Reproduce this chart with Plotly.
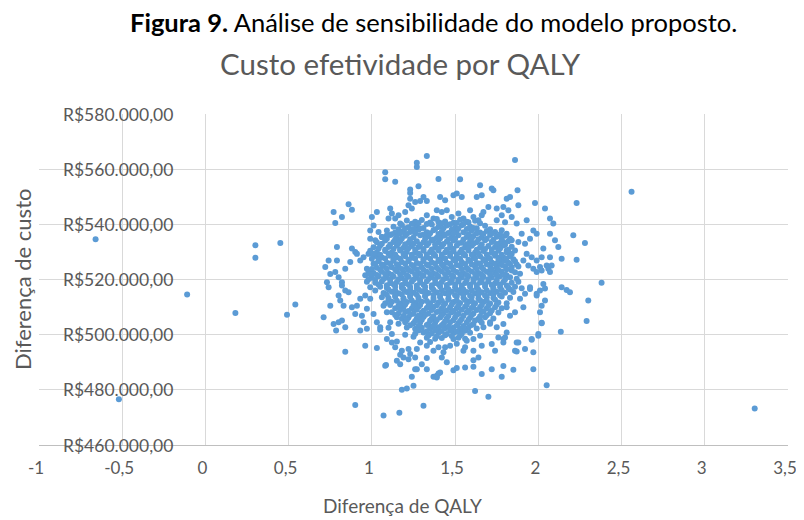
import plotly.graph_objects as go

# Values: (Diferença de QALY, Diferença de custo em milhares de R$)
pontos_extremos = [(-0.66,534.6),(-0.52,476.6),(-0.11,514.6),(0.18,507.9),(0.30,532.4),(0.30,527.9),
    (0.45,533.2),(0.49,507.2),(0.54,510.9),(2.56,551.8),(3.30,473.2),(2.38,518.8)]

pontos_periferia_superior = [(1.33,564.8),(1.27,562.3),(1.27,560.8),(1.08,558.9),(1.08,556.3),(1.14,555.4),
    (1.40,556.4),(1.53,556.3),(1.86,563.3),(1.23,552.6),(1.23,551.4),(1.28,553.8),(1.31,549.9),(1.33,548.5),
    (1.29,548.5),(1.26,548.1),(1.23,549.3),(1.22,546.9),(1.24,545.7),(1.20,544.5),(1.39,545.1),
    (0.86,547.3),(0.88,545.3),(0.77,544.5),(0.82,542.7),(0.78,540.5),(1.03,544.5),(1.00,542.7),(1.01,539.6),
    (0.99,537.8),(1.11,545.7),(1.12,543.9),(1.10,542.1),(1.14,542.1),(1.16,543.3),(1.17,540.3),
    (1.04,537.2),(1.06,535.4),(1.02,534.2),(0.99,534.8),(1.09,536.0),(1.33,543.3),(1.37,542.1),(1.40,540.8),
    (1.42,544.5),(0.79,531.8),(0.88,531.2),(0.90,530.0),(0.74,526.9),(0.79,526.9),(0.75,522.0),(0.78,522.7),
    (0.84,523.9),(0.87,526.3),(0.93,526.9),(0.91,529.3),(0.95,528.1),(0.98,529.3),(0.97,523.9),(1.01,525.7),
    (0.96,521.5),(0.80,520.8),(0.82,519.0),(0.73,519.0),(0.72,524.5),(1.65,554.2),(1.66,550.5),(1.63,549.9),
    (1.72,553.0),(1.73,552.4),(1.41,549.9),(1.44,548.7),(1.49,550.5),(1.51,551.2),(1.54,549.9),(1.875,552.4),
    (1.81,549.3),(1.83,549.9),(1.98,547.7),(2.04,545.7),(1.88,546.9),(1.70,546.3),(1.75,545.7),(1.79,546.3),
    (1.82,545.1),(2.07,542.1),(2.09,540.3),(1.93,541.5),(1.87,540.3),(1.84,542.7),(1.80,540.8),(1.78,543.3),
    (1.75,541.5),(1.59,545.1),(1.61,542.7),(1.64,541.5),(1.66,543.3),(1.67,544.5),(1.58,540.8),(1.55,542.1),
    (1.52,543.9),(1.48,542.7),(1.45,545.1),(1.97,537.8),(1.99,536.6),(1.95,534.8),(1.90,536.6),(1.88,533.6),
    (1.92,533.0),(1.84,534.2),(2.07,536.6),(2.10,534.2),(2.12,531.8),(2.14,527.5),(2.23,547.7),(2.21,536.0),
    (2.28,533.2),(2.23,527.2),(2.03,531.2),(2.07,528.1),(2.02,528.1),(1.99,526.9),(1.96,528.1),(1.93,529.3),
    (1.91,526.9),(1.94,525.1),(1.97,523.9),(2.01,524.5),(2.05,525.1),(2.02,523.3),(1.99,522.7),(1.81,536.6),
    (1.83,534.8),(1.79,533.6),(1.76,531.8),(1.81,530.5),(1.84,529.3),(1.86,530.5),(1.77,528.1),(1.80,526.9),
    (1.75,525.1),(1.71,523.3),(1.84,523.3),(1.81,521.5),(1.87,520.3),(1.89,522.1),(2.06,523.9),(2.07,522.7),
    (2.08,525.1),(2.03,518.4),(2.04,516.7)]

pontos_periferia_inferior = [(2.14,517.2),(2.17,516.2),(2.19,515.4),(2.30,512.4),(2.29,505.0),(2.135,501.1),
    (2.02,504.3),(2.00,499.6),(1.96,498.2),(1.97,493.6),(1.97,487.5),(2.05,481.7),(1.85,487.3),(1.78,484.7),
    (1.79,488.6),(1.72,487.5),(1.70,477.5),(1.62,479.6),(1.66,485.7),(1.61,488.4),(1.56,488.1),(1.64,491.7),
    (1.86,494.2),(1.92,494.8),(1.88,497.2),(1.74,494.2),(1.79,498.4),(1.95,516.6),(1.99,514.8),(1.61,490.7),
    (1.55,494.2),(1.56,495.4),(1.61,494.2),(1.66,496.0),(1.72,496.6),(1.79,497.2),(1.76,499.0),(1.80,499.0),
    (1.87,497.2),(1.87,493.9),(1.96,498.4),(2.00,500.2),(2.02,504.1),(1.42,491.7),(1.45,490.0),(1.65,499.6),
    (1.61,498.4),(1.53,501.5),(1.57,497.8),(1.49,498.4),(1.47,496.0),(1.44,495.4),(1.43,493.6),(2.01,508.1),
    (2.02,510.5),(2.04,512.4),(1.99,514.2),(2.01,516.0),(1.95,517.2),(1.92,514.8),(1.89,513.0),(1.91,509.9),
    (1.86,508.1),(1.83,506.9),(1.81,509.9),(1.79,503.9),(1.75,502.7),(1.71,504.5),(1.67,502.7),(1.65,505.1),
    (1.81,500.8),(1.51,487.9),(1.49,487.1),
    (0.90,474.5),(1.07,470.7),(1.165,471.7),(1.31,474.2),(1.18,480.0),(1.21,480.5),(1.25,481.5),(1.24,484.7),
    (1.26,487.5),(1.085,489.0),(0.84,493.8),(0.96,496.0),(1.03,495.2),(1.37,484.7),(1.39,485.1),(1.40,485.9),
    (1.33,491.5),(1.15,490.5),(1.19,491.7),(1.17,492.7),(0.74,517.2),(0.82,517.8),(0.84,516.0),(0.80,514.2),
    (0.81,512.4),(0.86,515.4),(0.83,510.5),(0.75,510.5),(0.71,506.3),(0.77,503.9),(0.80,504.5),(0.82,505.1),
    (0.785,501.5),(0.84,502.7),(0.88,509.9),(0.91,510.5),(0.90,507.5),(0.93,513.0),(0.96,514.2),(0.99,513.0),
    (0.97,509.4),(0.94,506.9),(0.95,504.5),(0.93,501.5),(1.01,507.5),(1.03,504.5),(1.05,502.7),(0.99,517.2),
    (1.02,516.0),(1.06,513.6),(1.07,510.5),(1.09,508.1),(1.11,504.5),(1.12,500.2),(1.09,498.4),(1.12,497.2),
    (1.14,495.4),(1.18,494.2),(1.22,494.8),(1.23,493.0),(1.27,494.8),(1.29,497.2),(1.33,496.0),(1.37,494.2),
    (1.40,495.4),(1.08,488.7),(1.17,489.3),(1.22,491.1),(1.26,491.7),(1.30,489.3),(1.33,487.5),(1.27,487.5),
    (1.39,484.5),(1.41,486.3),(0.97,502.1),(1.05,501.8),(1.10,502.5),(1.15,497.5),(1.35,497.3),(1.51,496.7),
    (1.25,499.2),(1.20,500.0)]

pontos_nucleo_superior = [(1.21,541.4),(1.26,540.9),(1.30,541.6),(1.35,540.7),(1.39,541.9),(1.44,541.0),(1.49,540.6),
    (1.53,541.7),(1.57,540.9),(1.62,541.3),(1.13,539.1),(1.18,539.8),(1.22,538.9),(1.27,539.5),(1.31,538.7),
    (1.36,539.9),(1.40,539.0),(1.45,539.6),(1.50,538.8),(1.54,539.7),(1.59,539.2),(1.63,538.6),(1.68,539.5),
    (1.09,537.8),(1.14,537.0),(1.19,537.6),(1.23,537.2),(1.28,538.0),(1.33,537.1),(1.37,537.9),(1.42,537.3),
    (1.46,536.9),(1.51,537.7),(1.55,537.1),(1.60,537.8),(1.65,537.0),(1.69,537.6),(1.74,537.2),(1.78,537.9),
    (1.06,535.4),(1.11,536.1),(1.15,535.5),(1.20,535.9),(1.25,535.2),(1.29,536.0),(1.34,535.6),(1.39,535.1),
    (1.43,535.9),(1.48,535.3),(1.52,536.0),(1.57,535.4),(1.61,535.8),(1.66,535.2),(1.71,536.1),(1.75,535.5),
    (1.80,535.9),(1.03,533.5),(1.08,534.1),(1.13,533.6),(1.17,534.0),(1.22,533.3),(1.27,533.9),(1.31,533.5),
    (1.36,534.2),(1.40,533.4),(1.45,533.8),(1.49,534.1),(1.54,533.3),(1.59,533.9),(1.63,533.5),(1.68,534.2),
    (1.72,533.6),(1.77,533.2),(1.82,533.9),(1.01,531.7),(1.05,532.3),(1.10,531.8),(1.15,532.2),(1.19,531.5),
    (1.24,532.1),(1.28,531.8),(1.33,532.4),(1.38,531.6),(1.42,532.0),(1.47,531.5),(1.51,532.3),(1.56,531.7),
    (1.60,532.2),(1.65,531.6),(1.70,532.1),(1.74,531.8),(1.79,532.3),(1.84,531.9),(0.99,530.4),(1.03,529.9),
    (1.08,530.3),(1.12,529.8),(1.17,530.5),(1.21,530.0),(1.26,529.7),(1.31,530.4),(1.35,530.0),(1.40,530.5),
    (1.44,529.8),(1.49,530.2),(1.53,529.9),(1.58,530.5),(1.62,529.8),(1.67,530.3),(1.72,529.7),(1.76,530.4),
    (1.81,529.9),(1.02,528.5),(1.06,528.0),(1.11,528.6),(1.15,528.1),(1.20,528.4),(1.24,527.9),(1.29,528.7),
    (1.33,528.2),(1.38,528.6),(1.42,528.0),(1.47,528.5),(1.51,528.1),(1.56,528.7),(1.61,528.2),(1.65,528.4),
    (1.70,527.9),(1.74,528.6),(1.79,528.0),(1.83,528.5),(1.04,526.6),(1.09,526.1),(1.13,526.8),(1.18,526.3),
    (1.22,526.6),(1.27,526.0),(1.31,526.7),(1.36,526.2),(1.41,526.5),(1.45,526.1),(1.50,526.8),(1.54,526.3),
    (1.59,526.6),(1.63,526.0),(1.68,526.7),(1.72,526.2),(1.77,526.5),(1.82,526.1),(1.86,526.6),(1.03,524.3),
    (1.07,524.9),(1.12,524.4),(1.16,524.8),(1.21,524.2),(1.25,524.7),(1.30,524.4),(1.34,525.0),(1.39,524.3),
    (1.43,524.8),(1.48,524.5),(1.53,524.9),(1.57,524.2),(1.62,524.7),(1.66,524.4),(1.71,524.9),(1.75,524.3),
    (1.80,524.8),(1.84,524.4),(1.88,524.7)]

pontos_nucleo_inferior = [(0.98,522.9),(1.01,522.4),(1.06,522.8),(1.10,522.3),(1.15,523.0),(1.19,522.5),
    (1.24,522.9),(1.28,522.4),(1.33,522.8),(1.37,522.2),(1.42,522.9),(1.46,522.5),(1.51,522.7),(1.55,522.3),
    (1.60,522.9),(1.64,522.4),(1.69,522.8),(1.74,522.5),(1.78,522.9),(1.86,522.6),(1.00,520.6),(1.04,521.2),
    (1.09,520.7),(1.13,521.1),(1.18,520.5),(1.22,521.0),(1.27,520.6),(1.31,521.3),(1.36,520.8),(1.40,521.1),
    (1.45,520.5),(1.49,521.0),(1.54,520.7),(1.58,521.2),(1.63,520.6),(1.67,521.0),(1.72,520.7),(1.77,521.2),
    (1.83,520.8),(0.97,519.2),(1.02,518.8),(1.06,519.3),(1.11,518.7),(1.15,519.1),(1.20,518.6),(1.24,519.2),
    (1.29,518.9),(1.33,519.4),(1.38,518.7),(1.42,519.1),(1.47,518.8),(1.52,519.3),(1.56,518.7),(1.61,519.2),
    (1.65,518.9),(1.70,519.3),(1.74,518.6),(1.79,519.1),(1.84,518.8),(1.88,519.2),(1.05,517.4),(1.09,516.9),
    (1.14,517.5),(1.18,517.0),(1.23,517.3),(1.27,516.8),(1.32,517.4),(1.36,517.0),(1.41,517.5),(1.45,516.9),
    (1.50,517.2),(1.54,516.8),(1.59,517.4),(1.63,517.0),(1.68,517.5),(1.73,516.9),(1.77,517.3),(1.82,517.0),
    (1.86,517.4),(1.90,516.8),(1.07,515.1),(1.12,515.6),(1.16,515.0),(1.21,515.5),(1.25,515.2),(1.30,515.7),
    (1.34,515.1),(1.39,515.4),(1.44,515.0),(1.48,515.6),(1.53,515.2),(1.57,515.5),(1.62,515.0),(1.66,515.4),
    (1.71,515.1),(1.75,515.6),(1.80,515.2),(1.85,515.5),(1.10,513.3),(1.14,513.8),(1.19,513.2),(1.23,513.7),
    (1.28,513.4),(1.32,513.9),(1.37,513.3),(1.41,513.6),(1.46,513.2),(1.51,513.8),(1.55,513.4),(1.60,513.7),
    (1.64,513.1),(1.69,513.6),(1.73,513.3),(1.78,513.8),(1.83,513.4),(1.08,511.4),(1.12,511.9),(1.17,511.3),
    (1.21,511.8),(1.26,511.5),(1.30,511.9),(1.35,511.4),(1.40,511.7),(1.44,511.3),(1.49,511.8),(1.53,511.5),
    (1.58,511.9),(1.62,511.4),(1.67,511.8),(1.71,511.3),(1.76,511.7),(1.81,511.4),(1.14,509.6),(1.19,510.0),
    (1.24,509.5),(1.28,510.1),(1.33,509.7),(1.37,510.0),(1.42,509.5),(1.47,509.9),(1.51,509.6),(1.56,510.1),
    (1.60,509.7),(1.65,510.0),(1.69,509.5),(1.74,509.9),(1.78,509.6),(1.12,508.1),(1.16,507.7),(1.20,508.2),
    (1.25,507.6),(1.30,508.0),(1.34,507.7),(1.39,508.2),(1.43,507.8),(1.48,508.1),(1.52,507.6),(1.57,508.0),
    (1.61,507.7),(1.66,508.2),(1.71,507.8),(1.76,508.0),(1.15,506.3),(1.18,505.8),(1.22,506.2),(1.27,505.9),
    (1.31,506.4),(1.36,505.8),(1.41,506.2),(1.45,505.9),(1.50,506.3),(1.54,505.7),(1.59,506.1),(1.64,505.8),
    (1.68,506.3),(1.73,505.9),(1.16,504.0),(1.20,504.5),(1.25,504.1),(1.29,504.4),(1.34,503.9),(1.38,504.3),
    (1.43,504.0),(1.47,504.5),(1.52,504.1),(1.57,504.4),(1.61,503.9),(1.66,504.3),(1.71,504.0),(1.21,502.6),
    (1.26,502.1),(1.30,502.5),(1.35,502.2),(1.40,502.7),(1.44,502.3),(1.49,502.6),(1.53,502.1),(1.58,502.5),
    (1.63,502.2),(1.26,500.3),(1.31,500.8),(1.36,500.4),(1.40,500.7),(1.45,500.2),(1.49,500.6),(1.54,500.3),
    (1.59,500.7),(1.33,498.9),(1.38,498.5),(1.42,498.8),(1.52,498.9),(1.56,498.5)]

pontos_nucleo_denso_superior = [(1.24,540.2),(1.28,540.5),(1.33,540.1),(1.42,540.4),(1.47,540.0),(1.51,540.5),
    (1.55,540.1),(1.65,540.4),(1.16,538.2),(1.20,538.6),(1.25,538.3),(1.29,538.5),(1.38,538.2),(1.43,538.6),
    (1.48,538.1),(1.52,538.5),(1.57,538.3),(1.61,538.7),(1.71,538.2),(1.12,536.4),(1.17,536.8),(1.21,536.5),
    (1.26,536.7),(1.31,536.3),(1.35,536.8),(1.40,536.5),(1.44,536.3),(1.49,536.7),(1.58,536.4),(1.63,536.8),
    (1.67,536.5),(1.72,536.7),(1.77,536.4),(1.09,534.8),(1.14,534.5),(1.18,534.9),(1.23,534.6),(1.32,534.8),
    (1.37,534.5),(1.41,534.9),(1.46,534.6),(1.50,534.8),(1.55,534.5),(1.60,534.9),(1.64,534.6),(1.69,534.8),
    (1.73,534.4),(1.78,534.7),(1.06,533.0),(1.11,532.7),(1.16,533.1),(1.20,532.8),(1.25,533.0),(1.29,532.6),
    (1.34,533.1),(1.38,532.8),(1.43,532.9),(1.47,532.6),(1.52,533.1),(1.57,532.8),(1.61,533.0),(1.66,532.7),
    (1.75,532.9),(1.80,532.6),(1.04,531.2),(1.08,530.8),(1.13,531.1),(1.17,530.9),(1.22,531.3),(1.26,530.8),
    (1.31,531.1),(1.36,530.9),(1.40,531.2),(1.45,530.8),(1.49,531.1),(1.54,530.9),(1.58,531.3),(1.63,530.8),
    (1.68,531.1),(1.72,530.9),(1.77,531.2),(1.82,530.8),(1.01,529.3),(1.05,529.0),(1.10,529.4),(1.14,529.1),
    (1.19,529.3),(1.24,529.0),(1.28,529.4),(1.33,529.1),(1.37,529.3),(1.42,529.0),(1.47,529.4),(1.51,529.1),
    (1.55,529.3),(1.60,529.0),(1.64,529.4),(1.69,529.1),(1.74,529.3),(1.78,529.0),(1.00,527.5),(1.04,527.2),
    (1.08,527.6),(1.13,527.3),(1.17,527.5),(1.22,527.2),(1.26,527.6),(1.31,527.3),(1.35,527.5),(1.40,527.2),
    (1.44,527.6),(1.49,527.3),(1.53,527.5),(1.58,527.2),(1.62,527.6),(1.67,527.3),(1.71,527.5),(1.76,527.2),
    (1.81,527.6),(1.85,527.3),(1.02,525.7),(1.06,525.4),(1.11,525.8),(1.15,525.5),(1.20,525.7),(1.24,525.3),
    (1.29,525.6),(1.33,525.4),(1.38,525.8),(1.42,525.5),(1.47,525.7),(1.51,525.3),(1.56,525.6),(1.60,525.4),
    (1.65,525.8),(1.69,525.5),(1.74,525.7),(1.78,525.3),(1.83,525.6),(1.87,525.4),(1.00,523.8),(1.05,523.5),
    (1.09,523.9),(1.14,523.6),(1.18,523.8),(1.22,523.4),(1.27,523.7),(1.31,523.5),(1.36,523.9),(1.40,523.6),
    (1.45,523.8),(1.49,523.4),(1.54,523.7),(1.58,523.5),(1.63,523.9),(1.67,523.6),(1.72,523.8),(1.76,523.4),
    (1.81,523.7)]

pontos_nucleo_denso_inferior = [(0.99,521.9),(1.03,521.6),(1.08,522.0),(1.12,521.7),(1.17,521.9),(1.21,521.5),
    (1.26,521.8),(1.30,521.6),(1.35,522.0),(1.39,521.7),(1.44,521.9),(1.48,521.5),(1.53,521.8),(1.57,521.6),
    (1.62,522.0),(1.66,521.7),(1.71,521.9),(1.75,521.5),(1.80,521.8),(0.98,520.1),(1.02,519.8),(1.07,520.2),
    (1.11,519.9),(1.16,520.1),(1.20,519.7),(1.25,520.0),(1.29,519.8),(1.34,520.2),(1.38,519.9),(1.43,520.1),
    (1.48,519.7),(1.52,520.0),(1.57,519.8),(1.61,520.2),(1.66,519.9),(1.70,520.1),(1.75,519.7),(1.80,520.0),
    (1.04,518.2),(1.09,517.9),(1.13,518.3),(1.18,518.0),(1.22,518.2),(1.27,517.8),(1.31,518.1),(1.36,517.9),
    (1.40,518.3),(1.45,518.0),(1.50,518.2),(1.54,517.8),(1.59,518.1),(1.63,517.9),(1.68,518.3),(1.72,518.0),
    (1.77,518.2),(1.81,517.8),(1.10,516.4),(1.14,516.1),(1.19,516.5),(1.23,516.2),(1.28,516.4),(1.32,516.0),
    (1.37,516.3),(1.42,516.1),(1.46,516.5),(1.51,516.2),(1.55,516.4),(1.60,516.0),(1.64,516.3),(1.69,516.1),
    (1.73,516.5),(1.78,516.2),(1.83,516.4),(1.09,514.5),(1.14,514.2),(1.18,514.6),(1.23,514.3),(1.27,514.5),
    (1.32,514.1),(1.37,514.4),(1.41,514.2),(1.46,514.6),(1.50,514.3),(1.55,514.5),(1.59,514.1),(1.64,514.4),
    (1.68,514.2),(1.73,514.6),(1.77,514.3),(1.10,512.6),(1.15,512.3),(1.19,512.7),(1.24,512.4),(1.28,512.6),
    (1.33,512.2),(1.37,512.5),(1.42,512.3),(1.46,512.7),(1.51,512.4),(1.56,512.6),(1.60,512.2),(1.65,512.5),
    (1.69,512.3),(1.74,512.7),(1.11,510.8),(1.16,510.5),(1.20,510.9),(1.25,510.6),(1.29,510.8),(1.34,510.4),
    (1.39,510.7),(1.43,510.5),(1.48,510.9),(1.52,510.6),(1.57,510.8),(1.61,510.4),(1.66,510.7),(1.70,510.5),
    (1.75,510.9),(1.17,508.9),(1.22,508.6),(1.27,509.0),(1.31,508.7),(1.36,508.9),(1.40,508.5),(1.45,508.8),
    (1.49,508.6),(1.54,509.0),(1.58,508.7),(1.63,508.9),(1.67,508.5),(1.72,508.8),(1.14,507.1),(1.19,506.8),
    (1.23,507.2),(1.28,506.9),(1.32,507.1),(1.37,506.7),(1.42,507.0),(1.46,506.8),(1.51,507.2),(1.55,506.9),
    (1.60,507.1),(1.65,506.7),(1.69,507.0),(1.21,505.3),(1.26,505.0),(1.30,505.4),(1.35,505.1),(1.39,505.3),
    (1.44,504.9),(1.49,505.2),(1.53,505.0),(1.58,505.4),(1.62,505.1),(1.23,503.4),(1.28,503.1),(1.33,503.5),
    (1.37,503.2),(1.42,503.4),(1.46,503.0),(1.51,503.3),(1.55,503.1),(1.60,503.5),(1.28,501.5),(1.33,501.2),
    (1.38,501.6),(1.42,501.3),(1.47,501.5),(1.51,501.1),(1.56,501.4),(1.34,499.7),(1.39,499.4),(1.44,499.8),
    (1.48,499.5),(1.53,499.7)]

x_tick_vals = [-1, -0.5, 0, 0.5, 1, 1.5, 2, 2.5, 3, 3.5]
x_tick_text = ["-1", "-0,5", "0", "0,5", "1", "1,5", "2", "2,5", "3", "3,5"]
y_tick_vals = [460000, 480000, 500000, 520000, 540000, 560000, 580000]
y_tick_text = ["R$460.000,00", "R$480.000,00", "R$500.000,00", "R$520.000,00",
               "R$540.000,00", "R$560.000,00", "R$580.000,00"]

todos = (pontos_extremos + pontos_periferia_superior + pontos_periferia_inferior
         + pontos_nucleo_superior + pontos_nucleo_inferior
         + pontos_nucleo_denso_superior + pontos_nucleo_denso_inferior)
qaly = [p[0] for p in todos]
custo = [p[1] * 1000 for p in todos]

FONT = "Lato, 'Open Sans', sans-serif"
GRAY = "#595959"

fig = go.Figure(go.Scatter(
    x=qaly, y=custo, mode="markers",
    marker=dict(color="#5b9bd5", size=6, line=dict(width=0)),
    showlegend=False, hoverinfo="skip"))

# the page body adds an 8px offset, so the figure is 8px smaller and margins are shifted
annotations = [
    dict(text="<b>Figura 9.</b> Análise de sensibilidade do modelo proposto.",
         xref="paper", yref="paper", x=(433 - 39) / 749, y=(445 - 22) / 331,
         xanchor="center", yanchor="middle", showarrow=False,
         font=dict(size=25.5, color="black", family=FONT)),
    dict(text="Custo efetividade por QALY",
         xref="paper", yref="paper", x=(400 - 39) / 749, y=(445 - 63) / 331,
         xanchor="center", yanchor="middle", showarrow=False,
         font=dict(size=29.5, color=GRAY, family=FONT)),
    dict(text="Diferença de QALY",
         xref="paper", yref="paper", x=(402 - 39) / 749, y=(445 - 506) / 331,
         xanchor="center", yanchor="middle", showarrow=False,
         font=dict(size=19, color=GRAY, family=FONT)),
    dict(text="Diferença de custo", textangle=-90,
         xref="paper", yref="paper", x=(22 - 39) / 749, y=(445 - 280) / 331,
         xanchor="center", yanchor="middle", showarrow=False,
         font=dict(size=22, color=GRAY, family=FONT)),
]
for val, txt in zip(y_tick_vals, y_tick_text):
    annotations.append(dict(text=txt, xref="paper", yref="y", x=(61 - 39) / 749, y=val,
                            xanchor="left", yanchor="middle", showarrow=False,
                            font=dict(size=17.5, color=GRAY, family=FONT)))

fig.update_layout(
    width=796, height=512,
    margin=dict(l=31, r=16, t=106, b=75, autoexpand=False),
    paper_bgcolor="white", plot_bgcolor="white",
    font=dict(family=FONT, color=GRAY),
    xaxis=dict(range=[-1, 3.5], tickvals=x_tick_vals, ticktext=x_tick_text,
               showgrid=True, gridcolor="#d9d9d9", gridwidth=1, zeroline=False,
               showline=True, linecolor="#bfbfbf", linewidth=1, ticks="",
               automargin=False, ticklabelstandoff=8, ticklabelshift=-3,
               tickfont=dict(size=17, color=GRAY, family=FONT)),
    yaxis=dict(range=[460000, 580000], tickvals=y_tick_vals,
               showgrid=True, gridcolor="#d9d9d9", gridwidth=1, zeroline=False,
               showline=False, ticks="", showticklabels=False, automargin=False),
    annotations=annotations,
)

fig.write_html("out.html")
